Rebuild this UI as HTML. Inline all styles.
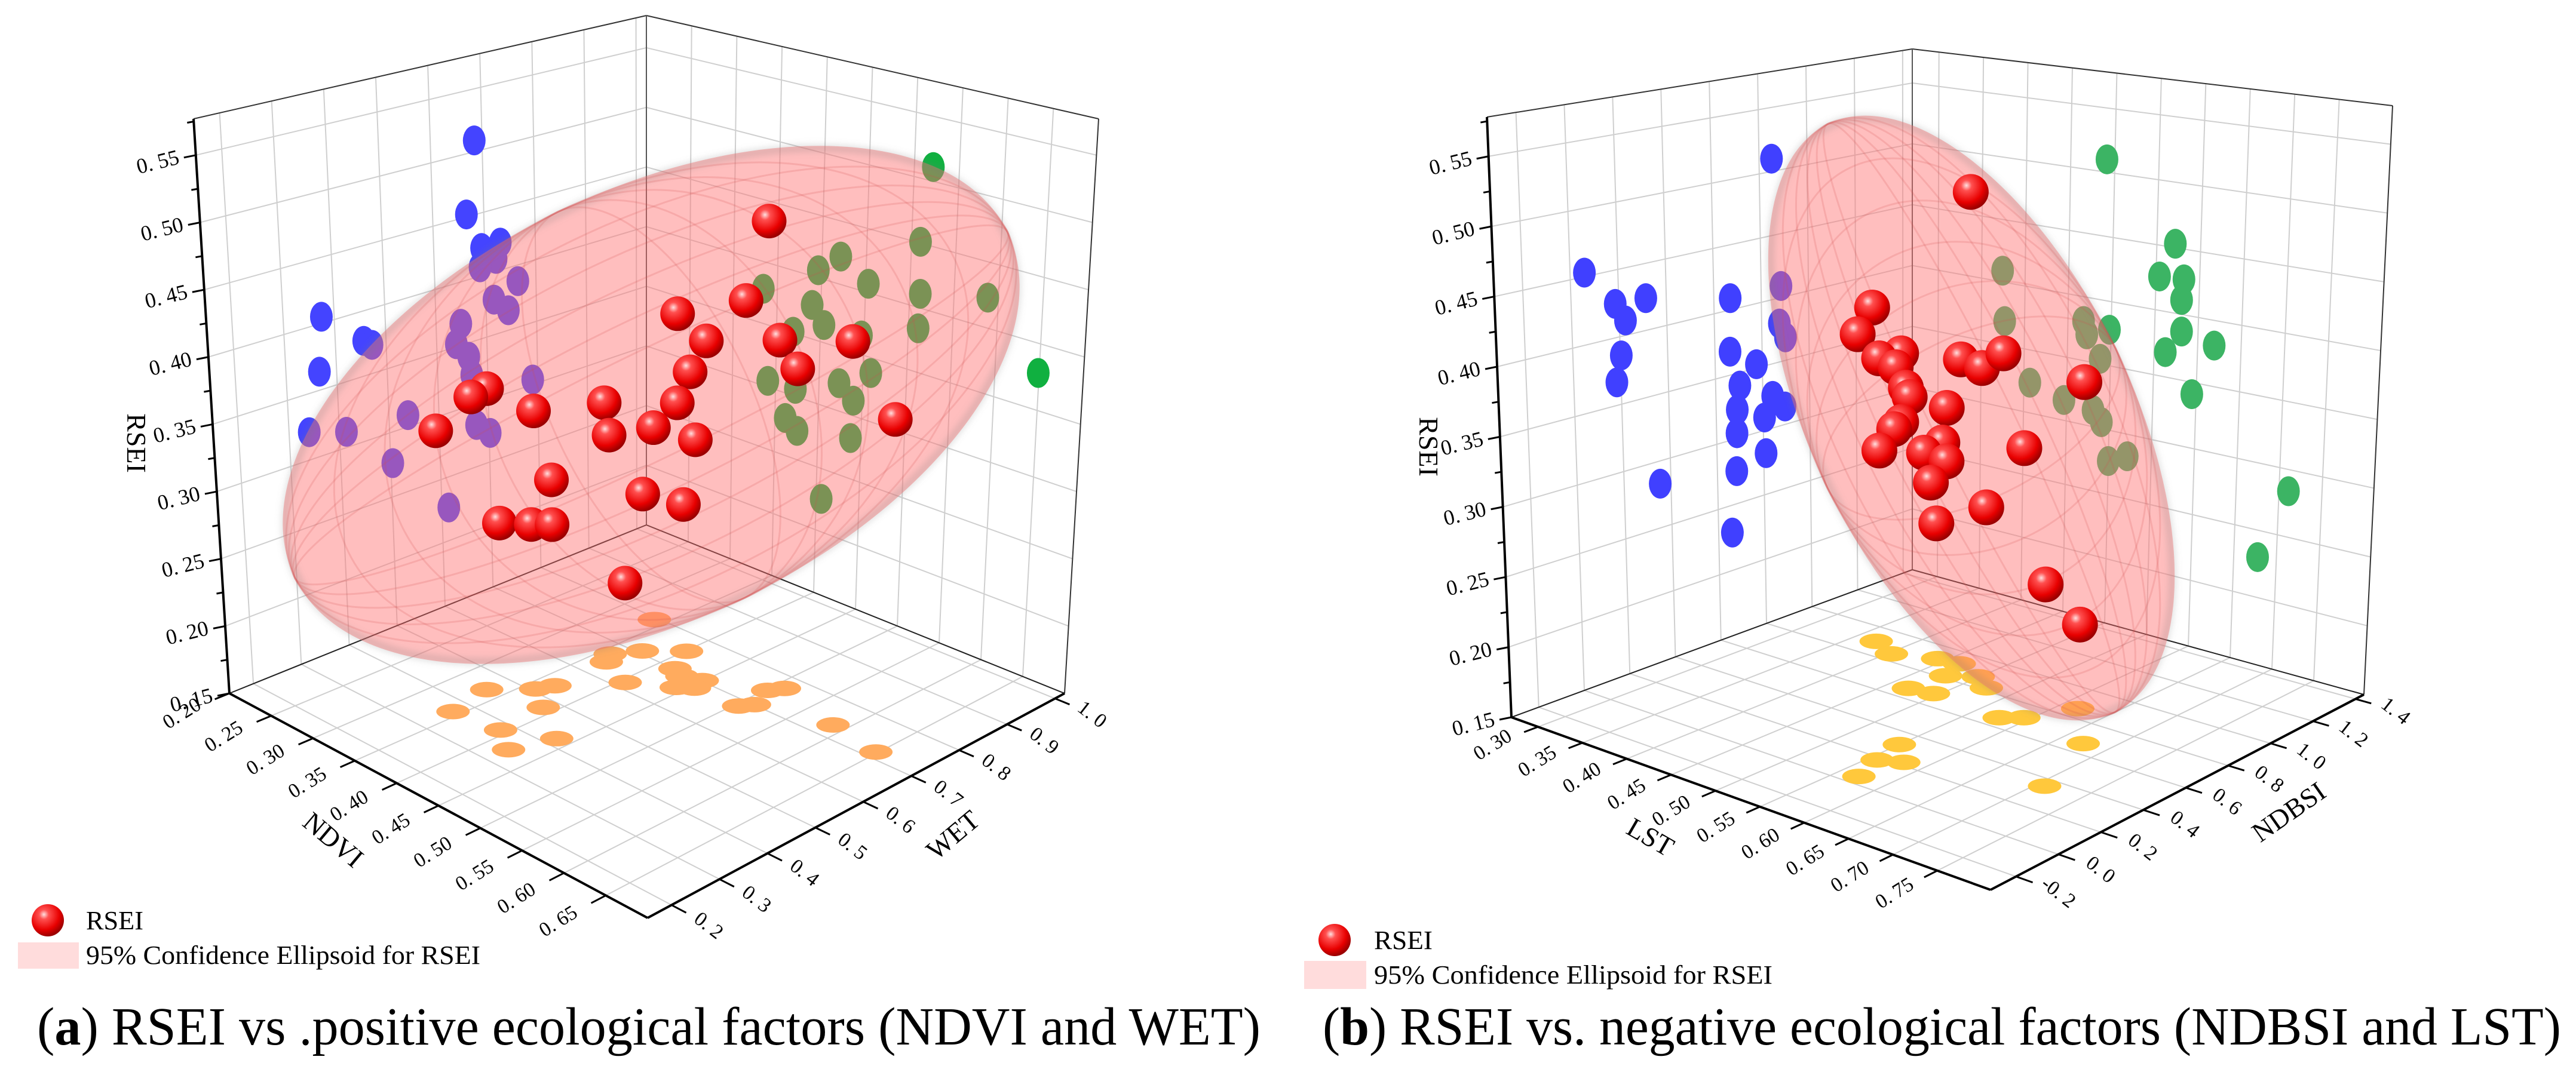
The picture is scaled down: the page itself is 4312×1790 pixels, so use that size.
<!DOCTYPE html>
<html><head><meta charset="utf-8"><style>
html,body{margin:0;padding:0;background:#fff;}
svg{display:block;font-family:"Liberation Serif",serif;}
text{font-family:"Liberation Serif",serif;}
</style></head>
<body>
<svg id="fig" width="4312" height="1790" viewBox="0 0 4312 1790" xmlns="http://www.w3.org/2000/svg" xml:space="preserve">
<defs>
<radialGradient id="redG" cx="38%" cy="32%" r="68%">
<stop offset="0" stop-color="#ffe0e0"/><stop offset="0.22" stop-color="#ff5050"/><stop offset="0.7" stop-color="#e80000"/><stop offset="1" stop-color="#9a0000"/>
</radialGradient>
<filter id="blur6"><feGaussianBlur stdDeviation="6"/></filter>
</defs>
<g id="panelA"></g>
<g id="panelB"></g>
<g>
<circle cx="80" cy="1541" r="27" fill="url(#redG)"/>
<text x="144" y="1556" font-size="44" font-family="Liberation Serif, serif" textLength="96" lengthAdjust="spacingAndGlyphs">RSEI</text>
<rect x="30" y="1578" width="102" height="44" fill="#ffdcdc"/>
<text x="144" y="1614" font-size="44" font-family="Liberation Serif, serif" textLength="660" lengthAdjust="spacingAndGlyphs">95% Confidence Ellipsoid for RSEI</text>
</g>
<g>
<circle cx="2234" cy="1574" r="27" fill="url(#redG)"/>
<text x="2300" y="1589" font-size="44" font-family="Liberation Serif, serif" textLength="98" lengthAdjust="spacingAndGlyphs">RSEI</text>
<rect x="2183" y="1609" width="104" height="47" fill="#ffdcdc"/>
<text x="2300" y="1647" font-size="44" font-family="Liberation Serif, serif" textLength="667" lengthAdjust="spacingAndGlyphs">95% Confidence Ellipsoid for RSEI</text>
</g>
<text x="62" y="1749" font-size="90" font-family="Liberation Serif, serif" textLength="2048" lengthAdjust="spacingAndGlyphs">(<tspan font-weight="bold">a</tspan>) RSEI vs .positive ecological factors (NDVI and WET)</text>
<text x="2214" y="1749" font-size="90" font-family="Liberation Serif, serif" textLength="2073" lengthAdjust="spacingAndGlyphs">(<tspan font-weight="bold">b</tspan>) RSEI vs. negative ecological factors (NDBSI and LST)</text>
</svg>
<script>
// ---------- Panel A data ----------
const redNdviA = [.450,.406,.439,.420,.456,.492,.412,.465,.312,.304,.335,.370,.406,.286,.372,.394,.415,.514,.343,.389,.409,.317,.333,.343,.380];
const redWetA = [.825,.723,.801,.756,.840,.923,.738,.861,.505,.487,.558,.639,.723,.446,.645,.696,.744,.975,.578,.683,.731,.516,.553,.578,.662];
const redRseiA = [.481,.414,.421,.392,.389,.384,.369,.366,.363,.357,.345,.349,.346,.332,.324,.328,.317,.321,.292,.278,.268,.261,.259,.258,.211];
const blueWetA = [.685,.666,.694,.731,.722,.690,.764,.716,.744,.649,.375,.456,.472,.639,.663,.366,.668,.790,.538,.414,.340,.675,.702,.504,.614];
const blueRseiA = [.509,.452,.422,.422,.410,.407,.387,.378,.366,.367,.405,.377,.372,.352,.339,.364,.324,.304,.309,.312,.321,.283,.273,.276,.226];
const greenNdviA = [.521,.649,.510,.421,.396,.453,.334,.512,.588,.390,.404,.369,.511,.447,.341,.423,.459,.440,.373,.362,.376,.438,.406];
const greenRseiA = [.511,.378,.451,.422,.406,.407,.378,.411,.423,.377,.364,.351,.384,.365,.305,.322,.338,.312,.306,.280,.273,.282,.226];
const orangeNdviA = [.339,.359,.374,.401,.367,.417,.431,.449,.442,.454,.405,.368,.361,.334,.510,.502,.504,.512,.389,.343,.393,.436,.422,.587,.648];
const orangeWetA = [.794,.667,.708,.753,.645,.701,.691,.702,.660,.677,.618,.536,.508,.453,.767,.746,.682,.701,.475,.367,.379,.421,.345,.734,.717];
const rseiTicksA = [0.15,0.20,0.25,0.30,0.35,0.40,0.45,0.50,0.55];
const ndviTicksA = [0.20,0.25,0.30,0.35,0.40,0.45,0.50,0.55,0.60,0.65];
const wetTicksA = [0.2,0.3,0.4,0.5,0.6,0.7,0.8,0.9,1.0];
// ---------- Panel B data ----------
const redLstB = [.524,.469,.461,.485,.473,.482,.519,.531,.543,.488,.490,.590,.511,.485,.481,.509,.473,.498,.511,.556,.502,.534,.505,.569,.590];
const redNdbsiB = [.727,.516,.484,.579,.530,.567,.708,.754,.801,.588,.597,.977,.678,.579,.564,.667,.530,.629,.678,.847,.644,.766,.657,.900,.977];
const redRseiB = [.519,.437,.418,.403,.400,.393,.397,.390,.400,.378,.371,.376,.362,.353,.348,.337,.333,.330,.323,.330,.308,.288,.278,.229,.198];
const blueNdbsiB = [.852,.060,.185,.314,.226,.204,.182,.669,.664,.703,.690,.687,.683,.354,.659,.884,.875,.900,.775,.842,.894,.806,.810];
const blueRseiB = [.510,.453,.425,.424,.411,.386,.367,.409,.368,.340,.322,.304,.275,.283,.229,.409,.380,.368,.353,.325,.314,.310,.282];
const greenLstB = [.491,.571,.554,.582,.580,.498,.581,.563,.619,.595,.374,.377,.468,.472,.488,.407,.447,.481,.491,.500,.522,.711,.678];
const greenRseiB = [.510,.453,.426,.427,.411,.378,.387,.369,.381,.341,.409,.369,.381,.371,.354,.324,.316,.313,.305,.276,.283,.284,.230];
const yellowLstB = [.372,.403,.442,.465,.475,.499,.470,.495,.522,.577,.594,.618,.550,.674,.558,.579,.570,.708];
const yellowNdbsiB = [.900,.850,.908,.917,.817,.872,.669,.685,.820,.664,.710,.863,.315,.667,.182,.220,.051,.352];
const rseiTicksB = [0.15,0.20,0.25,0.30,0.35,0.40,0.45,0.50,0.55];
const lstTicksB = [0.30,0.35,0.40,0.45,0.50,0.55,0.60,0.65,0.70,0.75];
const ndbsiTicksB = [-0.2,0.0,0.2,0.4,0.6,0.8,1.0,1.2,1.4];

const NS = "http://www.w3.org/2000/svg";
const SERIF = '"Liberation Serif", serif';
function mk(tag, attrs, parent){ const e=document.createElementNS(NS,tag); for(const k in attrs) e.setAttribute(k,attrs[k]); parent.appendChild(e); return e; }
function bil(c,p,q){ return [0,1].map(i=> c.L[i]*(1-p)*(1-q)+c.F[i]*p*(1-q)+c.R[i]*p*q+c.B[i]*(1-p)*q); }
function proj(G,p,q,w){ const f=bil(G.floor,p,q), t=bil(G.top,p,q); return [f[0]+(t[0]-f[0])*w, f[1]+(t[1]-f[1])*w]; }
function fmt(v,d){ return v.toFixed(d).replace('.', '. '); }

function line(g,G,a,b,stroke,sw,name){
  const A=proj(G,...a), B=proj(G,...b);
  const el=mk('line',{x1:A[0],y1:A[1],x2:B[0],y2:B[1],stroke:stroke,'stroke-width':sw},g);
  
  
  return el;
}

function drawPanel(cfg){
  const g=document.getElementById(cfg.id), G=cfg.geom;
  const P=cfg.pScale, Q=cfg.qScale, W=cfg.wScale;
  const grid=mk('g',{},g);
  
  
  cfg.wTicks.forEach(v=>{ const w=W(v);
    line(grid,G,[0,0,w],[0,1,w],'#cfcfcf',2,'gridline-left-wall');
    line(grid,G,[0,1,w],[1,1,w],'#cfcfcf',2,'gridline-right-wall'); });
  cfg.qTicks.forEach(v=>{ const q=Q(v);
    line(grid,G,[0,q,0],[0,q,1],'#cfcfcf',2,'gridline-left-wall-vertical');
    line(grid,G,[0,q,0],[1,q,0],'#cfcfcf',2,'gridline-floor'); });
  cfg.pTicks.forEach(v=>{ const p=P(v);
    line(grid,G,[p,1,0],[p,1,1],'#cfcfcf',2,'gridline-right-wall-vertical');
    line(grid,G,[p,0,0],[p,1,0],'#cfcfcf',2,'gridline-floor'); });
  line(g,G,[0,0,1],[0,1,1],'#333',2,'box-edge-top-left');
  line(g,G,[0,1,1],[1,1,1],'#333',2,'box-edge-top-right');
  line(g,G,[0,1,0],[0,1,1],'#555',2,'box-edge-back');
  line(g,G,[1,1,0],[1,1,1],'#333',2,'box-edge-right');
  line(g,G,[0,0,0],[0,1,0],'#222',2,'box-edge-floor-left');
  line(g,G,[0,1,0],[1,1,0],'#222',2,'box-edge-floor-right');
  const proj2=mk('g',{},g);
  
  
  cfg.leftQ.forEach((v,i)=>{ const c=proj(G,0,Q(v),W(cfg.leftW[i]));
    const el=mk('ellipse',{cx:c[0],cy:c[1],rx:19,ry:25,fill:cfg.leftColor},proj2);
    
     });
  cfg.rightP.forEach((v,i)=>{ const c=proj(G,P(v),1,W(cfg.rightW[i]));
    const el=mk('ellipse',{cx:c[0],cy:c[1],rx:19,ry:25,fill:cfg.rightColor},proj2);
    
     });
  cfg.floorP.forEach((v,i)=>{ const c=proj(G,P(v),Q(cfg.floorQ[i]),0);
    const el=mk('ellipse',{cx:c[0],cy:c[1],rx:28,ry:13,fill:cfg.floorColor},proj2);
    
     });
  const E=cfg.ell;
  const eg=mk('g',{transform:`translate(${E.cx},${E.cy}) rotate(${E.rot})`},g);
  
  
  mk('ellipse',{cx:0,cy:0,rx:E.a,ry:E.b,fill:'#ff6e6e','fill-opacity':0.45},eg);
  mk('ellipse',{cx:0,cy:0,rx:E.a-4,ry:E.b-4,fill:'none',stroke:'#777','stroke-opacity':0.35,'stroke-width':8,filter:'url(#blur6)'},eg);
  for(let k=1;k<6;k++){
    mk('ellipse',{cx:0,cy:0,rx:E.a*(1-k*0.15),ry:E.b,fill:'none',stroke:'#d05050','stroke-opacity':0.18,'stroke-width':3},eg);
    mk('ellipse',{cx:0,cy:0,rx:E.a,ry:E.b*(1-k*0.15),fill:'none',stroke:'#d05050','stroke-opacity':0.18,'stroke-width':3},eg);
  }
  const rg=mk('g',{},g);
  
  
  cfg.redP.forEach((v,i)=>{ const c=proj(G,P(v),Q(cfg.redQ[i]),W(cfg.redW[i]));
    const el=mk('circle',{cx:c[0],cy:c[1],r:cfg.rr,fill:'url(#redG)'},rg);
    
     });
  line(g,G,[0,0,0],[0,0,1],'#000',4,'rsei-axis-line');
  line(g,G,[0,0,0],[1,0,0],'#000',4,cfg.pName+'-axis-line');
  line(g,G,[1,0,0],[1,1,0],'#000',4,cfg.qName+'-axis-line');
  cfg.wTicks.forEach(v=>{ const c=proj(G,0,0,W(v));
    const t=mk('line',{x1:c[0],y1:c[1],x2:c[0]-20,y2:c[1]+4,stroke:'#000','stroke-width':3},g);
    
    
    const m=proj(G,0,0,W(v+0.025));
    if(v<0.56){ const t2=mk('line',{x1:m[0],y1:m[1],x2:m[0]-11,y2:m[1]+2,stroke:'#000','stroke-width':3},g);
      
       }
    const tx=mk('text',{x:c[0]-26,y:c[1]+14,'font-size':36,'font-family':SERIF,'text-anchor':'end',transform:`rotate(-14 ${c[0]-26} ${c[1]+14})`},g);
    tx.textContent=fmt(v,2);
    
     });
  cfg.pTicks.forEach(v=>{ const p=P(v); const a=proj(G,p,0,0), b=proj(G,p,-0.035,0), l=proj(G,p,-0.115,0);
    const t=mk('line',{x1:a[0],y1:a[1],x2:b[0],y2:b[1],stroke:'#000','stroke-width':3},g);
    
    
    const tx=mk('text',{x:l[0],y:l[1]+12,'font-size':34,'font-family':SERIF,'text-anchor':'middle',transform:`rotate(-32 ${l[0]} ${l[1]})`},g);
    tx.textContent=fmt(v,2);
    
     });
  cfg.qTicks.forEach(v=>{ const q=Q(v); const a=proj(G,1,q,0), b=proj(G,1.035,q,0), l=proj(G,1.09,q,0);
    const t=mk('line',{x1:a[0],y1:a[1],x2:b[0],y2:b[1],stroke:'#000','stroke-width':3},g);
    
    
    const tx=mk('text',{x:l[0],y:l[1]+12,'font-size':34,'font-family':SERIF,'text-anchor':'middle',transform:`rotate(38 ${l[0]} ${l[1]})`},g);
    tx.textContent=fmt(v,1);
    
     });
  cfg.titles.forEach(T=>{ const tx=mk('text',{x:T[1],y:T[2],'font-size':46,'font-family':SERIF,'text-anchor':'middle',transform:`rotate(${T[3]} ${T[1]} ${T[2]})`},g);
    tx.textContent=T[0];
    
     });
}

drawPanel({
  id:'panelA',
  geom:{floor:{L:[384,1161],F:[1084,1537],R:[1782,1161],B:[1082,879]}, top:{L:[324,199],F:[1084,452],R:[1839,199],B:[1082,26]}},
  pScale:v=>(v-0.2)/0.5, qScale:v=>(v-0.15)/0.87, wScale:v=>(v-0.15)/0.427,
  pTicks:ndviTicksA, qTicks:wetTicksA, wTicks:rseiTicksA, pName:'ndvi', qName:'wet',
  leftQ:blueWetA, leftW:blueRseiA, leftColor:'#4444ff',
  rightP:greenNdviA, rightW:greenRseiA, rightColor:'#10b040',
  floorP:orangeNdviA, floorQ:orangeWetA, floorColor:'#ffab5e',
  redP:redNdviA, redQ:redWetA, redW:redRseiA, rr:29,
  ell:{cx:1090,cy:678,a:663,b:359,rot:-25.9},
  titles:[['RSEI',213,742,90],['NDVI',548,1418,40],['WET',1605,1410,-40]]
});
drawPanel({
  id:'panelB',
  geom:{floor:{L:[2530,1201],F:[3332,1490],R:[3957,1163],B:[3201,954]}, top:{L:[2489,196],F:[3340,360],R:[4005,177],B:[3201,82]}},
  pScale:v=>(v-0.27)/0.54, qScale:v=>(v+0.32)/1.76, wScale:v=>(v-0.15)/0.428,
  pTicks:lstTicksB, qTicks:ndbsiTicksB, wTicks:rseiTicksB, pName:'lst', qName:'ndbsi',
  leftQ:blueNdbsiB, leftW:blueRseiB, leftColor:'#4040ff',
  rightP:greenLstB, rightW:greenRseiB, rightColor:'#3cb464',
  floorP:yellowLstB, floorQ:yellowNdbsiB, floorColor:'#ffc83c',
  redP:redLstB, redQ:redNdbsiB, redW:redRseiB, rr:30,
  ell:{cx:3300,cy:700,a:548,b:268,rot:64},
  titles:[['RSEI',2376,748,90],['LST',2755,1415,30],['NDBSI',3840,1372,-35]]
});
</script>
</body></html>
